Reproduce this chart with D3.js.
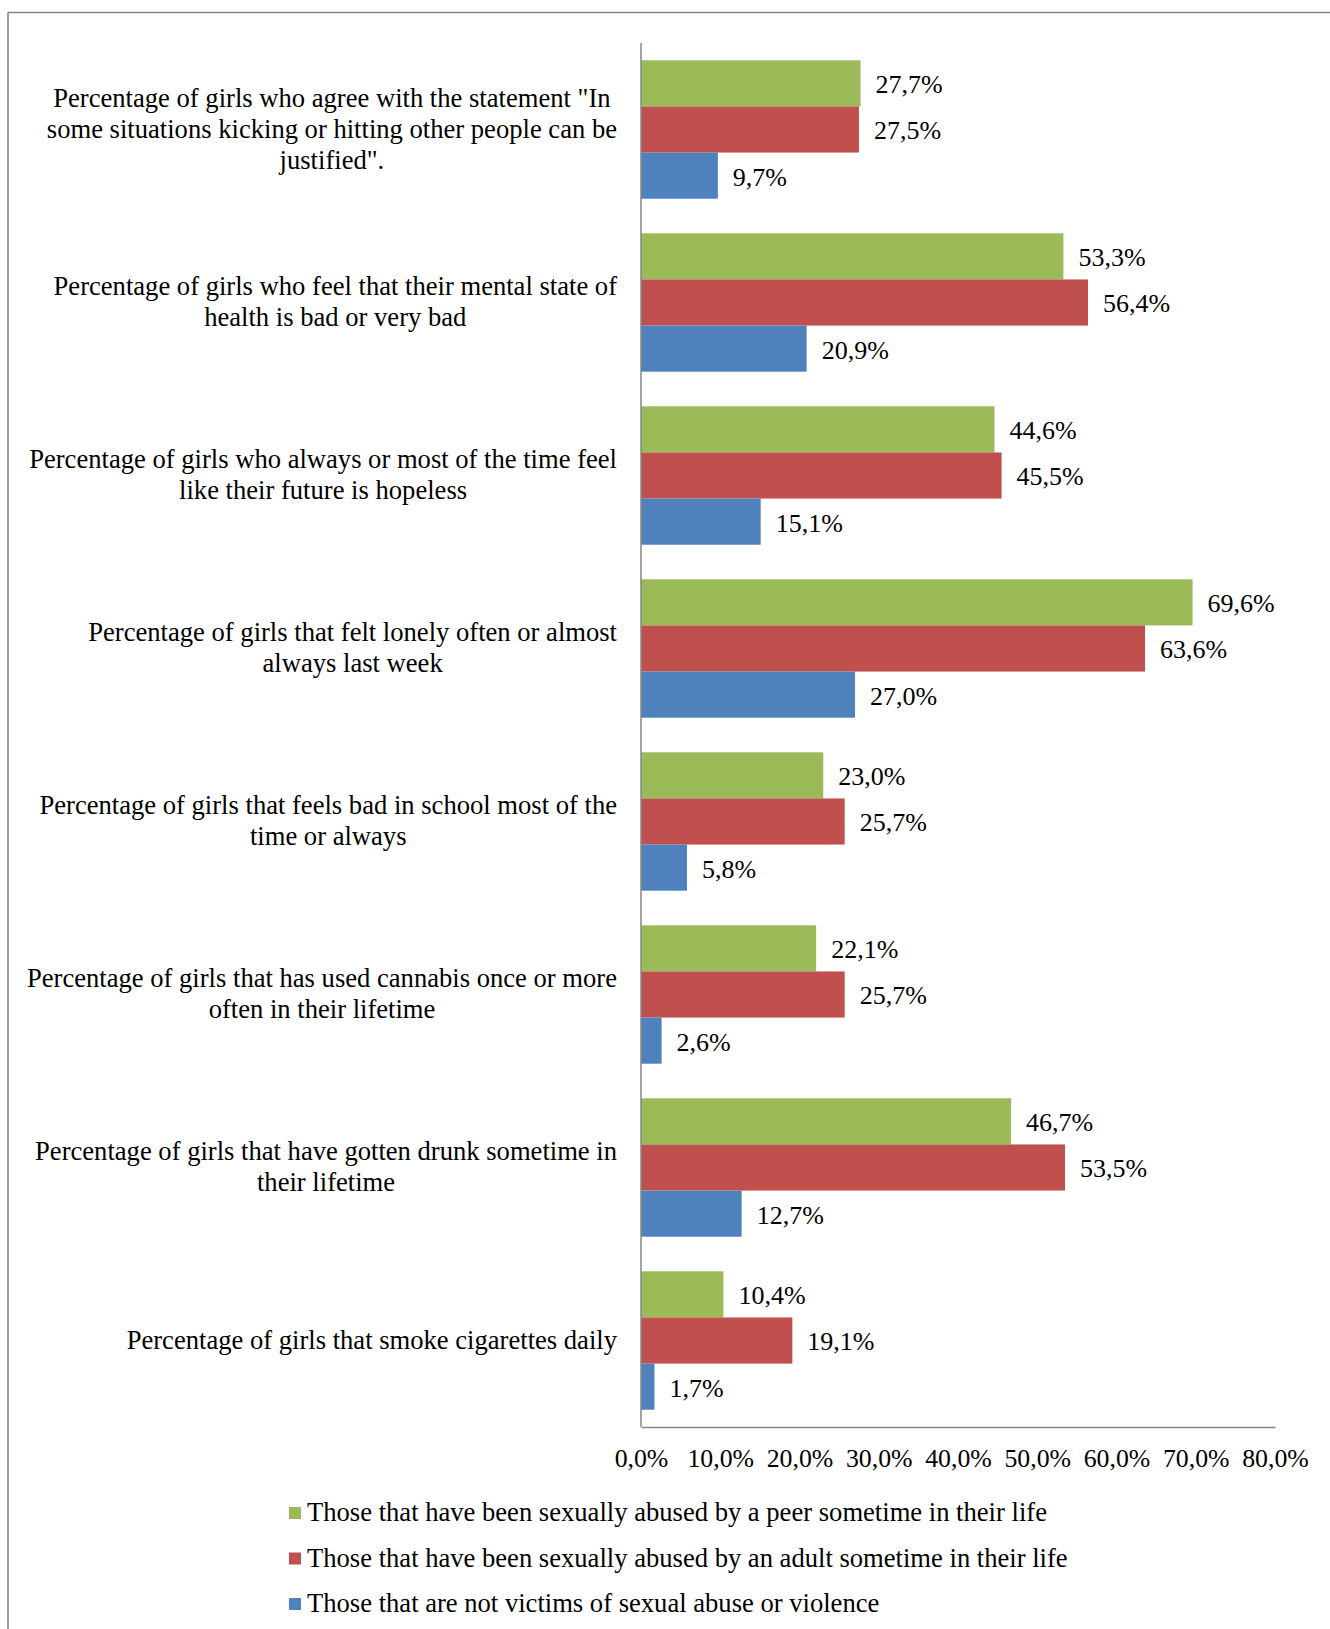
<!DOCTYPE html>
<html>
<head>
<meta charset="utf-8">
<script src="https://cdn.jsdelivr.net/npm/d3@7"></script>
<style>
  html, body { margin: 0; padding: 0; background: #fff; }
  svg text { font-family: "Liberation Serif", "Times New Roman", serif; fill: #000; }
</style>
</head>
<body>
<svg id="chart" width="1330" height="1629"></svg>
<script>
const categories = [
  ["Percentage of girls who agree with the statement \"In", "some situations kicking or hitting other people can be", "justified\"."],
  ["Percentage of girls who feel that their mental state of", "health is bad or very bad"],
  ["Percentage of girls who always or most of the time feel", "like their future is hopeless"],
  ["Percentage of girls that felt lonely often or almost", "always last week"],
  ["Percentage of girls that feels bad in school most of the", "time or always"],
  ["Percentage of girls that has used cannabis once or more", "often in their lifetime"],
  ["Percentage of girls that have gotten drunk sometime in", "their lifetime"],
  ["Percentage of girls that smoke cigarettes daily"]
];
const seriesNames = [
  "Those that have been sexually abused by a peer sometime in their life",
  "Those that have been sexually abused by an adult sometime in their life",
  "Those that are not victims of sexual abuse or violence"
];
const peerValues  = [27.7, 53.3, 44.6, 69.6, 23.0, 22.1, 46.7, 10.4];
const adultValues = [27.5, 56.4, 45.5, 63.6, 25.7, 25.7, 53.5, 19.1];
const noneValues  = [9.7, 20.9, 15.1, 27.0, 5.8, 2.6, 12.7, 1.7];
const tickValues = [0, 10, 20, 30, 40, 50, 60, 70, 80];
const colors = ["#9BBB59", "#C0504D", "#4F81BD"];

const series = [peerValues, adultValues, noneValues];
const fmt = v => v.toFixed(1).replace(".", ",") + "%";

const svg = d3.select("#chart");

// outer frame (top and left edges visible)
svg.append("line").attr("x1", 8).attr("x2", 1330).attr("y1", 12.5).attr("y2", 12.5)
  .attr("stroke", "#858585").attr("stroke-width", 1.6);
svg.append("line").attr("x1", 8).attr("x2", 8).attr("y1", 12.5).attr("y2", 1629)
  .attr("stroke", "#858585").attr("stroke-width", 1.6);

const plotLeft = 641, plotRight = 1275, plotTop = 43, plotBottom = 1427;

const x = d3.scaleLinear().domain([0, 80]).range([plotLeft, plotRight]);
const y = d3.scaleBand().domain(d3.range(categories.length)).range([plotTop, plotBottom])
  .paddingInner(0.2).paddingOuter(0.1);
const ySub = d3.scaleBand().domain([0, 1, 2]).range([0, y.bandwidth()]).padding(0);

// bars
series.forEach((vals, si) => {
  const g = svg.append("g");
  g.selectAll("rect").data(vals).join("rect")
    .attr("x", x(0))
    .attr("y", (d, i) => y(i) + ySub(si))
    .attr("width", d => x(d) - x(0))
    .attr("height", ySub.bandwidth())
    .attr("fill", colors[si]);
  g.selectAll("text").data(vals).join("text")
    .attr("x", d => x(d) + 15)
    .attr("y", (d, i) => y(i) + ySub(si) + ySub.bandwidth() / 2 + 4)
    .attr("dominant-baseline", "middle")
    .attr("font-size", 26)
    .text(d => fmt(d));
});

// axes lines
svg.append("line").attr("x1", x(0)).attr("x2", x(0)).attr("y1", plotTop).attr("y2", plotBottom)
  .attr("stroke", "#868686").attr("stroke-width", 1.5);
const xAxis = d3.axisBottom(x).tickValues(tickValues).tickSize(0).tickFormat(d => fmt(d));
const gx = svg.append("g").attr("transform", `translate(0,${plotBottom})`).call(xAxis);
gx.select(".domain").attr("stroke", "#868686").attr("stroke-width", 1.5);
gx.selectAll("text").attr("font-size", 25.8).attr("dy", null).attr("y", 34)
  .attr("dominant-baseline", "middle")
  .style("font-family", "'Liberation Serif', 'Times New Roman', serif").attr("fill", "#000");

// category labels
const labelRight = 617, lineH = 31, catFont = 26.6;
categories.forEach((lines, i) => {
  const g = svg.append("g");
  const cy = y(i) + y.bandwidth() / 2 + 2;
  const texts = lines.map((ln, k) => g.append("text")
    .attr("font-size", catFont)
    .attr("dominant-baseline", "middle")
    .attr("text-anchor", "middle")
    .attr("y", cy + (k - (lines.length - 1) / 2) * lineH)
    .text(ln));
  const maxW = d3.max(texts, t => t.node().getComputedTextLength());
  texts.forEach(t => t.attr("x", labelRight - maxW / 2));
});

// legend
const legY = [1515, 1560.5, 1606];
seriesNames.forEach((name, i) => {
  svg.append("rect").attr("x", 289).attr("y", legY[i] - 8).attr("width", 12).attr("height", 12)
    .attr("fill", colors[i]);
  svg.append("text").attr("x", 307).attr("y", legY[i]).attr("dominant-baseline", "middle")
    .attr("font-size", 26.6).text(name);
});
</script>
</body>
</html>
